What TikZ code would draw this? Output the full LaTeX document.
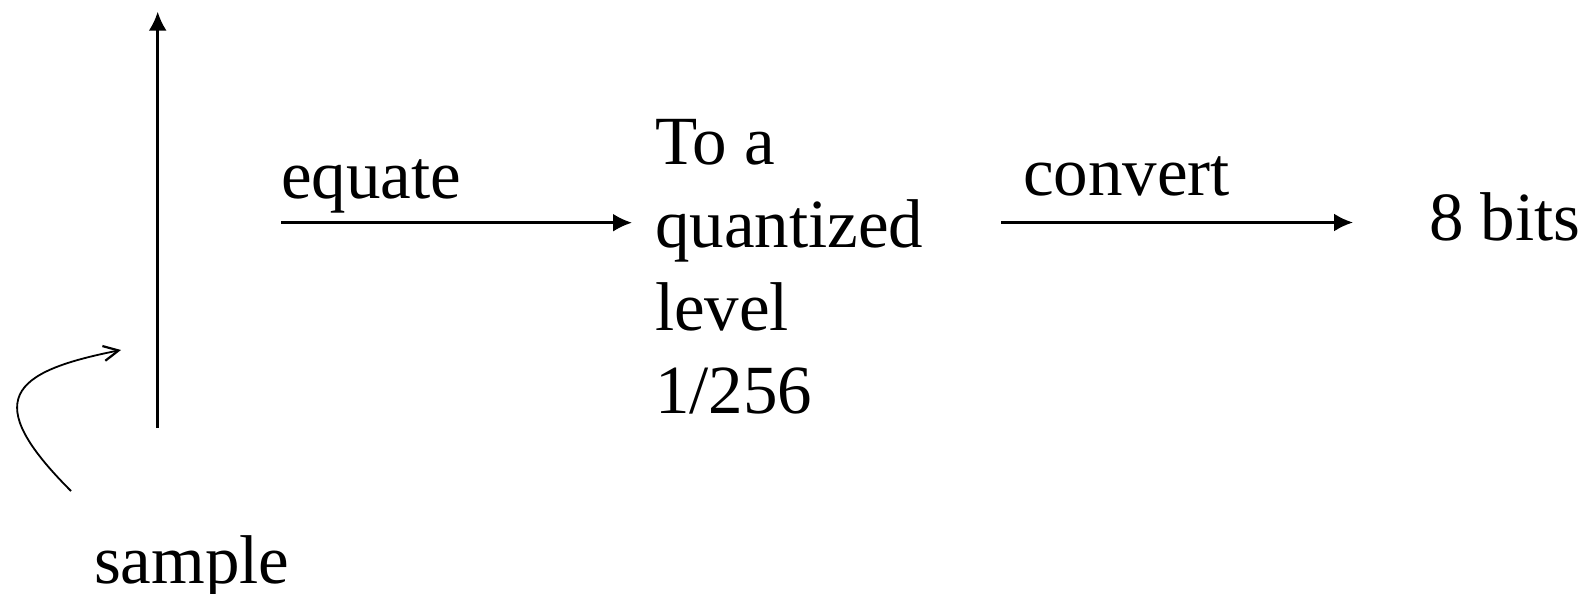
\documentclass[tikz,border=0pt]{standalone}
\usepackage{fontspec}
\setmainfont{Liberation Serif}
\usetikzlibrary{arrows.meta}
\begin{document}
\begin{tikzpicture}[x=0.5pt,y=-0.5pt,
  lbl/.style={inner sep=0pt,outer sep=0pt,anchor=base west,font=\fontsize{34.5}{41.5}\selectfont},
  arr/.style={line width=1.25pt,-{Latex[length=9.5pt,width=9pt]}},
  thinarr/.style={line width=0.9pt,-{Straight Barb[length=7.5pt,width=7.5pt,line width=1.1pt]}}]
\useasboundingbox (0,0) rectangle (1585,594);
% vertical sample line
\coordinate (vbot) at (157.7,428);
\coordinate (vtop) at (157.7,11.7);
\draw[arr] (vbot) -- (vtop);
% labels
\node[lbl] (equate) at (281,198) {equate};
\node[lbl] (convert) at (1023,195) {convert};
\node[lbl,align=left] (quant) at (655,413) {To a\\quantized\\level\\1/256};
\node[lbl] (bits) at (1429,240) {8 bits};
\node[lbl] (sample) at (94,583) {sample};
% arrows
\coordinate (eqs) at (281,222.7);
\coordinate (eqe) at (632,222.7);
\coordinate (cvs) at (1001,222.5);
\coordinate (cve) at (1353,222.5);
\draw[arr] (eqs) -- (eqe);
\draw[arr] (cvs) -- (cve);
% curved pointer
\coordinate (pstart) at (71,491);
\coordinate (ptip) at (121,350);
\draw[thinarr] (pstart) .. controls (-20,400) and (10,372) .. (ptip);
\end{tikzpicture}
\end{document}
